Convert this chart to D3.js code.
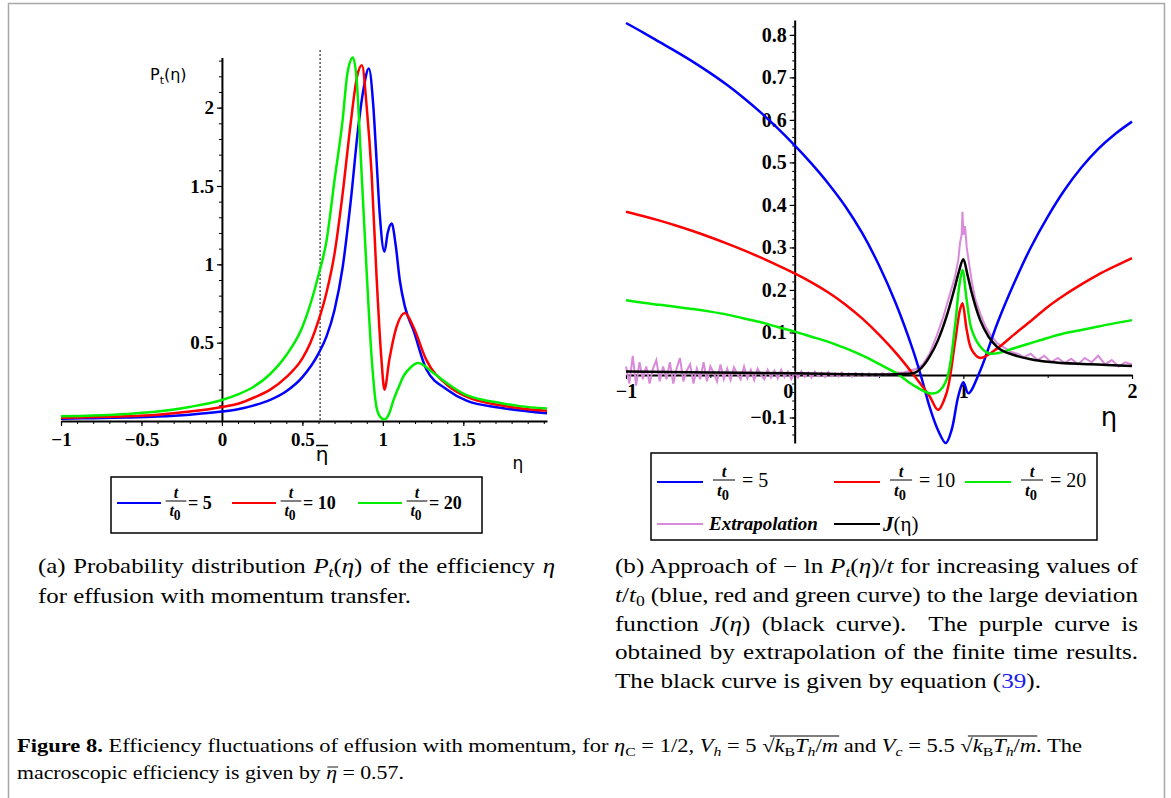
<!DOCTYPE html>
<html>
<head>
<meta charset="utf-8">
<script src="https://cdn.jsdelivr.net/npm/d3@7"></script>
<style>
  body { margin: 0; background: #fff; }
  svg { display: block; }
</style>
</head>
<body>
<div id="chart"></div>
<script>
// ---------- data ----------
// (a) P_t(eta), three observation times
const seriesNames = ["5", "10", "20"];
const seriesColors = ["#0000ff", "#ff0000", "#00ee00"];

const etaA5 = [-1, -0.8, -0.6, -0.4, -0.2, 0, 0.1, 0.2, 0.3, 0.4, 0.5, 0.6, 0.65, 0.7, 0.75, 0.8, 0.85, 0.88, 0.913, 0.94, 0.96, 0.98, 1.01, 1.03, 1.055, 1.08, 1.105, 1.137, 1.19, 1.27, 1.4, 1.52, 1.73, 2.02];
const pA5   = [0.015, 0.018, 0.022, 0.028, 0.04, 0.06, 0.075, 0.1, 0.135, 0.19, 0.28, 0.43, 0.54, 0.71, 0.98, 1.4, 1.9, 2.12, 2.25, 2.02, 1.68, 1.33, 1.08, 1.2, 1.26, 1.12, 0.9, 0.73, 0.58, 0.33, 0.2, 0.13, 0.085, 0.05];

const etaA10 = [-1, -0.8, -0.6, -0.4, -0.2, 0, 0.1, 0.2, 0.3, 0.4, 0.5, 0.55, 0.6, 0.65, 0.7, 0.75, 0.8, 0.84, 0.87, 0.9, 0.93, 0.96, 0.99, 1.01, 1.04, 1.085, 1.137, 1.19, 1.27, 1.4, 1.52, 1.73, 2.02];
const pA10   = [0.02, 0.025, 0.03, 0.04, 0.06, 0.09, 0.11, 0.15, 0.2, 0.28, 0.4, 0.5, 0.64, 0.82, 1.07, 1.45, 1.9, 2.2, 2.27, 2.0, 1.58, 0.94, 0.41, 0.2, 0.39, 0.6, 0.69, 0.6, 0.39, 0.23, 0.155, 0.1, 0.065];

const etaA20 = [-1, -0.8, -0.6, -0.4, -0.2, 0, 0.1, 0.2, 0.3, 0.4, 0.5, 0.6, 0.65, 0.7, 0.75, 0.78, 0.814, 0.837, 0.868, 0.9, 0.93, 0.96, 0.985, 1.01, 1.04, 1.065, 1.1, 1.125, 1.17, 1.22, 1.31, 1.4, 1.52, 1.6, 1.73, 1.85, 2.02];
const pA20   = [0.03, 0.035, 0.045, 0.06, 0.09, 0.134, 0.17, 0.22, 0.3, 0.42, 0.6, 0.93, 1.15, 1.54, 1.92, 2.22, 2.32, 2.18, 1.58, 0.94, 0.41, 0.09, 0.025, 0.01, 0.05, 0.13, 0.22, 0.28, 0.34, 0.37, 0.31, 0.24, 0.165, 0.14, 0.115, 0.095, 0.08];

const etaBar = 0.61;  // dotted line position as drawn

// (b) -ln P_t(eta)/t
const etaB5 = [-1, -0.9, -0.8, -0.7, -0.6, -0.5, -0.4, -0.3, -0.2, -0.1, 0, 0.1, 0.2, 0.3, 0.4, 0.5, 0.6, 0.7, 0.75, 0.8, 0.85, 0.896, 0.93, 0.97, 1.0, 1.03, 1.1, 1.2, 1.3, 1.4, 1.5, 1.6, 1.7, 1.8, 1.9, 2.0];
const jB5   = [0.828, 0.806, 0.783, 0.76, 0.736, 0.71, 0.682, 0.651, 0.617, 0.58, 0.54, 0.497, 0.45, 0.397, 0.334, 0.258, 0.168, 0.06, -0.004, -0.075, -0.13, -0.16, -0.13, -0.05, -0.017, -0.043, 0.01, 0.12, 0.215, 0.3, 0.372, 0.435, 0.488, 0.532, 0.567, 0.596];

const etaB10 = [-1, -0.9, -0.8, -0.7, -0.6, -0.5, -0.4, -0.3, -0.2, -0.1, 0, 0.1, 0.2, 0.3, 0.4, 0.5, 0.6, 0.7, 0.8, 0.85, 0.9, 0.95, 0.98, 0.995, 1.02, 1.05, 1.1, 1.2, 1.3, 1.4, 1.5, 1.6, 1.7, 1.8, 1.9, 2.0];
const jB10   = [0.384, 0.374, 0.363, 0.351, 0.338, 0.324, 0.309, 0.293, 0.276, 0.258, 0.239, 0.218, 0.194, 0.166, 0.133, 0.095, 0.052, 0.003, -0.05, -0.082, -0.043, 0.075, 0.153, 0.169, 0.106, 0.059, 0.04, 0.062, 0.095, 0.127, 0.16, 0.188, 0.213, 0.236, 0.256, 0.275];

const etaB20 = [-1, -0.9, -0.8, -0.7, -0.6, -0.5, -0.4, -0.3, -0.2, -0.1, 0, 0.1, 0.2, 0.3, 0.4, 0.5, 0.6, 0.7, 0.8, 0.85, 0.9, 0.95, 0.975, 0.995, 1.02, 1.05, 1.1, 1.15, 1.2, 1.3, 1.4, 1.5, 1.6, 1.7, 1.8, 1.9, 2.0];
const jB20   = [0.176, 0.17, 0.165, 0.16, 0.155, 0.149, 0.142, 0.133, 0.124, 0.113, 0.102, 0.09, 0.078, 0.063, 0.046, 0.026, 0.005, -0.023, -0.043, -0.04, -0.012, 0.113, 0.207, 0.247, 0.176, 0.106, 0.067, 0.051, 0.051, 0.063, 0.075, 0.087, 0.098, 0.106, 0.114, 0.122, 0.129];

const etaJ = [-1, -0.5, 0, 0.3, 0.5, 0.6, 0.7, 0.75, 0.8, 0.85, 0.9, 0.95, 0.975, 1.0, 1.025, 1.05, 1.1, 1.15, 1.2, 1.3, 1.4, 1.5, 1.75, 2.0];
const jJ   = [0.008, 0.006, 0.004, 0.002, 0.001, 0.002, 0.004, 0.016, 0.043, 0.082, 0.137, 0.207, 0.245, 0.272, 0.235, 0.193, 0.129, 0.09, 0.066, 0.047, 0.037, 0.031, 0.025, 0.021];

// extrapolated curve (noisy)
const etaX = [-1, -0.98, -0.96, -0.94, -0.92, -0.9, -0.88, -0.86, -0.84, -0.82, -0.8, -0.78, -0.76, -0.74, -0.72, -0.7, -0.68, -0.66, -0.64, -0.62, -0.6, -0.58, -0.56, -0.54, -0.52, -0.5, -0.48, -0.46, -0.44, -0.42, -0.4, -0.38, -0.36, -0.34, -0.32, -0.3, -0.28, -0.26, -0.24, -0.22, -0.2, -0.18, -0.16, -0.14, -0.12, -0.1, -0.08, -0.06, -0.04, -0.02, 0, 0.02, 0.04, 0.06, 0.08, 0.1, 0.12, 0.14, 0.16, 0.18, 0.2, 0.22, 0.24, 0.26, 0.28, 0.3, 0.32, 0.34, 0.36, 0.38, 0.4, 0.42, 0.44, 0.46, 0.48, 0.5, 0.52, 0.54, 0.56, 0.58, 0.6, 0.64, 0.68, 0.72, 0.76, 0.8, 0.84, 0.88, 0.92, 0.95, 0.97, 0.98, 0.99, 0.995, 1.0, 1.01, 1.02, 1.035, 1.05, 1.07, 1.1, 1.13, 1.16, 1.2, 1.24, 1.28, 1.32, 1.36, 1.4, 1.44, 1.48, 1.52, 1.56, 1.6, 1.64, 1.68, 1.72, 1.76, 1.8, 1.84, 1.88, 1.92, 1.96, 2.0];
const jX   = [0.02, -0.02, 0.045, -0.025, 0.03, -0.01, 0.02, -0.02, 0.015, 0.035, -0.015, 0.02, -0.01, 0.03, -0.02, 0.015, 0.04, -0.015, 0.01, 0.025, -0.02, 0.015, -0.01, 0.03, -0.015, 0.02, 0.005, -0.015, 0.025, -0.01, 0.015, -0.012, 0.018, 0.002, -0.01, 0.02, -0.008, 0.012, -0.012, 0.015, 0.0, -0.01, 0.012, -0.006, 0.01, -0.008, 0.012, -0.005, 0.008, -0.01, 0.006, -0.006, 0.009, -0.004, 0.006, -0.006, 0.008, -0.003, 0.005, -0.005, 0.007, -0.003, 0.004, -0.004, 0.006, -0.002, 0.004, -0.004, 0.005, -0.002, 0.004, -0.003, 0.004, -0.002, 0.003, -0.002, 0.004, 0.0, 0.004, 0.002, 0.006, 0.005, 0.01, 0.014, 0.025, 0.05, 0.09, 0.135, 0.19, 0.23, 0.27, 0.31, 0.33, 0.384, 0.33, 0.35, 0.3, 0.26, 0.22, 0.18, 0.145, 0.115, 0.095, 0.075, 0.065, 0.055, 0.05, 0.042, 0.05, 0.035, 0.045, 0.03, 0.04, 0.028, 0.038, 0.025, 0.04, 0.03, 0.045, 0.025, 0.035, 0.02, 0.03, 0.025];

// tick values
const ticksAx = [-1, -0.5, 0, 0.5, 1, 1.5];
const ticksAy = [0.5, 1, 1.5, 2];
const ticksBx = [-1, 0, 1, 2];
const ticksBy = [-0.1, 0.1, 0.2, 0.3, 0.4, 0.5, 0.6, 0.7, 0.8];

// ---------- drawing ----------
const SERIF = '"Liberation Serif","Times New Roman",serif';
const SANS = '"DejaVu Sans","Lucida Grande",sans-serif';
const fmt = d => (d < 0 ? "\u2212" : "") + Math.abs(d);
const zip = (xs, ys) => xs.map((x, i) => [x, ys[i]]);

const svg = d3.select("#chart").append("svg").attr("width", 1171).attr("height", 798);
svg.append("rect").attr("x", 8.5).attr("y", 3.5).attr("width", 1156).attr("height", 830)
  .attr("fill", "#fff").attr("stroke", "#a8a8a8").attr("stroke-width", 1.5);

function styleAxis(g, fs) {
  g.select(".domain").attr("stroke-width", 2);
  g.selectAll(".tick line").attr("stroke-width", 1.2);
  g.selectAll(".tick text").style("font-family", SERIF).style("font-weight", "bold")
    .style("font-size", fs + "px").attr("fill", "#000");
}
function minorTicks(g, axis) {
  g.call(axis.tickFormat(""));
  g.select(".domain").remove();
  g.selectAll(".tick line").attr("stroke-width", 1);
}

// ===== panel (a) =====
const xA = d3.scaleLinear().domain([-1, 2.02]).range([61, 547]);
const yA = d3.scaleLinear().domain([0, 2.32]).range([421, 57.5]);

svg.append("g").attr("transform", `translate(0,${yA(0)})`)
  .call(g => minorTicks(g, d3.axisBottom(xA).tickValues(d3.range(-10, 21).map(i => i / 10)).tickSize(3)));
svg.append("g").attr("transform", `translate(0,${yA(0)})`)
  .call(d3.axisBottom(xA).tickValues(ticksAx).tickSize(5).tickSizeOuter(0).tickPadding(7).tickFormat(fmt))
  .call(g => styleAxis(g, 19));
svg.append("g").attr("transform", `translate(${xA(0)},0)`)
  .call(g => minorTicks(g, d3.axisLeft(yA).tickValues(d3.range(1, 24).map(i => i / 10)).tickSize(3)));
svg.append("g").attr("transform", `translate(${xA(0)},0)`)
  .call(d3.axisLeft(yA).tickValues(ticksAy).tickSize(5).tickSizeOuter(0).tickPadding(3).tickFormat(fmt))
  .call(g => styleAxis(g, 19));

svg.append("line").attr("x1", xA(etaBar)).attr("x2", xA(etaBar)).attr("y1", 50).attr("y2", yA(0))
  .attr("stroke", "#000").attr("stroke-width", 1).attr("stroke-dasharray", "2,2");

const lineA = d3.line().x(d => xA(d[0])).y(d => yA(d[1])).curve(d3.curveMonotoneX);
[[etaA5, pA5], [etaA10, pA10], [etaA20, pA20]].forEach(([xs, ys], i) => {
  svg.append("path").attr("d", lineA(zip(xs, ys))).attr("fill", "none")
    .attr("stroke", seriesColors[i]).attr("stroke-width", 2.5).attr("stroke-linejoin", "round");
});

// axis labels (a)
const pl = svg.append("text").attr("x", 150).attr("y", 80).style("font-family", SANS).style("font-size", "16px");
pl.append("tspan").text("P");
pl.append("tspan").text("t").attr("dy", 4).style("font-size", "11px");
pl.append("tspan").text("(η)").attr("dy", -4);
svg.append("text").attr("x", 518).attr("y", 469).attr("text-anchor", "middle")
  .style("font-family", SANS).style("font-size", "17px").text("η");
svg.append("text").attr("x", xA(etaBar) + 2).attr("y", 461).attr("text-anchor", "middle")
  .style("font-family", SANS).style("font-size", "20px").text("η");
svg.append("line").attr("x1", xA(etaBar) - 4).attr("x2", xA(etaBar) + 8).attr("y1", 445.5).attr("y2", 445.5)
  .attr("stroke", "#000").attr("stroke-width", 1.5);

// fraction t/t0 helper
function fraction(g, cx, ybar, fs) {
  g.append("text").attr("x", cx).attr("y", ybar - 3).attr("text-anchor", "middle")
    .style("font-family", SERIF).style("font-weight", "bold").style("font-style", "italic")
    .style("font-size", fs + "px").text("t");
  const b = g.append("text").attr("x", cx - 1).attr("y", ybar + fs * 0.95).attr("text-anchor", "middle")
    .style("font-family", SERIF).style("font-weight", "bold").style("font-size", fs + "px");
  b.append("tspan").text("t").style("font-style", "italic");
  b.append("tspan").text("0").attr("dy", fs * 0.25).style("font-size", (fs * 0.85) + "px");
  g.append("line").attr("x1", cx - fs * 0.65).attr("x2", cx + fs * 0.65).attr("y1", ybar).attr("y2", ybar)
    .attr("stroke", "#000").attr("stroke-width", 1);
}

// legend (a)
const legA = svg.append("g");
legA.append("rect").attr("x", 111).attr("y", 477).attr("width", 371).attr("height", 56)
  .attr("fill", "none").attr("stroke", "#000").attr("stroke-width", 1.5);
[117, 232, 358].forEach((x0, i) => {
  legA.append("line").attr("x1", x0).attr("x2", x0 + 44).attr("y1", 503).attr("y2", 503)
    .attr("stroke", seriesColors[i]).attr("stroke-width", 2);
  fraction(legA, x0 + 59, 501, 16);
  legA.append("text").attr("x", x0 + 71).attr("y", 509)
    .style("font-family", SERIF).style("font-weight", "bold").style("font-size", "18px")
    .text("= " + seriesNames[i]);
});

// ===== panel (b) =====
const xB = d3.scaleLinear().domain([-1, 2]).range([626, 1132]);
const yB = d3.scaleLinear().domain([-0.16, 0.835]).range([443, 20]);

svg.append("g").attr("transform", `translate(0,${yB(0)})`)
  .call(g => minorTicks(g, d3.axisBottom(xB).tickValues([-0.5, 0.5, 1.5]).tickSize(3)));
const axBx = svg.append("g").attr("transform", `translate(0,${yB(0)})`)
  .call(d3.axisBottom(xB).tickValues(ticksBx).tickSize(4).tickSizeOuter(0).tickPadding(5).tickFormat(fmt))
  .call(g => styleAxis(g, 20));
axBx.selectAll(".tick text").filter(d => d === 0).attr("text-anchor", "end").attr("x", -2);
svg.append("g").attr("transform", `translate(${xB(0)},0)`)
  .call(g => minorTicks(g, d3.axisLeft(yB).tickValues(d3.range(-7, 42).map(i => i / 50)).tickSize(2.5)));
svg.append("g").attr("transform", `translate(${xB(0)},0)`)
  .call(d3.axisLeft(yB).tickValues(ticksBy).tickSize(5).tickSizeOuter(0).tickPadding(3).tickFormat(fmt))
  .call(g => styleAxis(g, 20));

const lineB = d3.line().x(d => xB(d[0])).y(d => yB(d[1])).curve(d3.curveCatmullRom.alpha(0.5));
svg.append("path").attr("d", d3.line().x(d => xB(d[0])).y(d => yB(d[1]))(zip(etaX, jX)))
  .attr("fill", "none").attr("stroke", "#d98ad9").attr("stroke-width", 2);
[[etaB5, jB5], [etaB10, jB10], [etaB20, jB20]].forEach(([xs, ys], i) => {
  svg.append("path").attr("d", lineB(zip(xs, ys))).attr("fill", "none")
    .attr("stroke", seriesColors[i]).attr("stroke-width", 2.5).attr("stroke-linejoin", "round");
});
svg.append("path")
  .attr("d", d3.line().x(d => xB(d[0])).y(d => yB(d[1])).curve(d3.curveMonotoneX)(zip(etaJ, jJ)))
  .attr("fill", "none").attr("stroke", "#000").attr("stroke-width", 2.5);

svg.append("text").attr("x", 1109).attr("y", 426).attr("text-anchor", "middle")
  .style("font-family", SANS).style("font-size", "26px").text("η");

// legend (b)
const legB = svg.append("g");
legB.append("rect").attr("x", 651).attr("y", 453).attr("width", 446).attr("height", 87)
  .attr("fill", "none").attr("stroke", "#000").attr("stroke-width", 1.5);
[657, 834, 965].forEach((x0, i) => {
  legB.append("line").attr("x1", x0).attr("x2", x0 + 46).attr("y1", 482).attr("y2", 482)
    .attr("stroke", seriesColors[i]).attr("stroke-width", 2.2);
  fraction(legB, x0 + 67, 480, 17);
  legB.append("text").attr("x", x0 + 85).attr("y", 487)
    .style("font-family", SERIF).style("font-size", "20px").text("= " + seriesNames[i]);
});
legB.append("line").attr("x1", 657).attr("x2", 703).attr("y1", 524).attr("y2", 524)
  .attr("stroke", "#d98ad9").attr("stroke-width", 2.2);
legB.append("text").attr("x", 709).attr("y", 530)
  .style("font-family", SERIF).style("font-weight", "bold").style("font-style", "italic")
  .style("font-size", "19px").text("Extrapolation");
legB.append("line").attr("x1", 834).attr("x2", 880).attr("y1", 524).attr("y2", 524)
  .attr("stroke", "#000").attr("stroke-width", 2.2);
const jl = legB.append("text").attr("x", 883).attr("y", 531)
  .style("font-family", SERIF).style("font-size", "21px");
jl.append("tspan").text("J").style("font-style", "italic").style("font-weight", "bold");
jl.append("tspan").text("(η)");

// ===== captions =====
// one line of mixed text; tokens are [string, flags]: i italic, b bold, _ subscript,
// c blue, o overlined (grouped by the preceding radical sign)
function richLine(g, x, y, tokens, size, family) {
  const t = g.append("text").attr("x", x).attr("y", y)
    .style("font-family", family).style("font-size", size + "px").style("white-space", "pre");
  let shifted = 0;
  const marks = [];
  let rad = 0;
  tokens.forEach(([s, st]) => {
    if (s === "√") rad++;
    const sp = t.append("tspan").text(s);
    const sub = st.includes("_");
    const want = sub ? size * 0.22 : 0;
    if (want !== shifted) { sp.attr("dy", want - shifted); shifted = want; }
    if (sub) sp.style("font-size", (size * 0.7) + "px");
    if (st.includes("i")) sp.style("font-style", "italic");
    if (st.includes("b")) sp.style("font-weight", "bold");
    if (st.includes("c")) sp.attr("fill", "#1a1aee");
    if (st.includes("o")) marks.push([rad, sp.node()]);
  });
  return { t, marks };
}

// paragraph: glyphs widened so the unjustified last line fits, other lines justified
function paragraph(x0, y0, lead, lines, size) {
  const g = svg.append("g");
  const texts = lines.map(([tok], i) => richLine(g, 0, y0 + i * lead, tok, size, SERIF).t);
  const lastW = lines[lines.length - 1][1];
  const s = lastW / texts[texts.length - 1].node().getComputedTextLength();
  g.attr("transform", `translate(${x0},0) scale(${s},1)`);
  texts.forEach((t, i) => {
    const w = t.node().getComputedTextLength();
    const n = (t.text().match(/ /g) || []).length;
    if (n) t.style("word-spacing", ((lines[i][1] / s - w) / n) + "px");
  });
}

paragraph(38, 573, 30, [
  [[["(a) Probability distribution ", "r"], ["P", "i"], ["t", "_i"], ["(", "r"], ["η", "i"], [") of the efficiency ", "r"], ["η", "i"]], 517],
  [[["for effusion with momentum transfer.", "r"]], 373]
], 20);

paragraph(615, 573, 28.8, [
  [[["(b) Approach of \u2212 ln ", "r"], ["P", "i"], ["t", "_i"], ["(", "r"], ["η", "i"], [")/", "r"], ["t", "i"], [" for increasing values of", "r"]], 523],
  [[["t", "i"], ["/", "r"], ["t", "i"], ["0", "_"], [" (blue, red and green curve) to the large deviation", "r"]], 523],
  [[["function ", "r"], ["J", "i"], ["(", "r"], ["η", "i"], [") (black curve).  The purple curve is", "r"]], 523],
  [[["obtained by extrapolation of the finite time results.", "r"]], 523],
  [[["The black curve is given by equation (", "r"], ["39", "c"], [").", "r"]], 426]
], 20);

// figure caption, set in a condensed face by horizontal scaling
const radicand = [["k", "io"], ["B", "_o"], ["T", "io"], ["h", "_io"], ["/", "o"], ["m", "io"]];
const figLines = [
  [[["Figure 8.", "b"], [" Efficiency fluctuations of effusion with momentum, for ", "r"], ["η", "i"], ["C", "_"], [" = 1/2, ", "r"],
    ["V", "i"], ["h", "_i"], [" = 5 ", "r"], ["√", "r"], ...radicand, [" and ", "r"], ["V", "i"], ["c", "_i"], [" = 5.5 ", "r"],
    ["√", "r"], ...radicand, [". The", "r"]], 1065],
  [[["macroscopic efficiency is given by ", "r"], ["η", "io"], [" = 0.57.", "r"]], 387]
];
figLines.forEach(([tok, w], i) => {
  const g = svg.append("g");
  const base = 752 + i * 27;
  const { t, marks } = richLine(g, 0, base, tok, 19, SERIF);
  const nat = t.node().getComputedTextLength();
  g.attr("transform", `translate(17,0) scale(${w / nat},1)`);
  d3.groups(marks, m => m[0]).forEach(([rad, ms]) => {
    const x1 = ms[0][1].getStartPositionOfChar(0).x;
    const last = ms[ms.length - 1][1];
    const x2 = last.getEndPositionOfChar(last.getNumberOfChars() - 1).x;
    const yo = rad > 0 ? base - 16 : base - 12;
    g.append("line").attr("x1", rad > 0 ? x1 - 4 : x1 + 1).attr("x2", x2 + 1)
      .attr("y1", yo).attr("y2", yo)
      .attr("stroke", "#000").attr("stroke-width", 0.9);
  });
});
</script>
</body>
</html>
